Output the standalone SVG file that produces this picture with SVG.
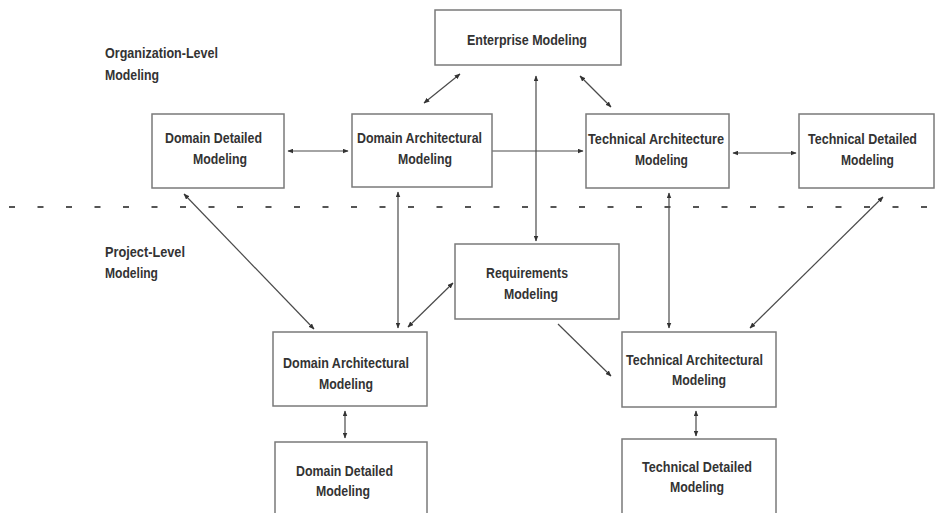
<svg xmlns="http://www.w3.org/2000/svg" width="936" height="513" viewBox="0 0 936 513">
  <style>
    .box { fill: #ffffff; stroke: #7a7a7a; stroke-width: 1.5; }
    .lbl { font-family: "Liberation Sans", Arial, sans-serif; font-weight: bold; font-size: 15px; fill: #333333; }
    .edge { stroke: #4a4a4a; stroke-width: 1.2; fill: none; marker-end: url(#arrow); }
    .both { marker-start: url(#arrowStart); }
    .divider { stroke: #555555; stroke-width: 2; stroke-dasharray: 6 22.5; fill: none; }
  </style>
  <defs>
    <marker id="arrow" viewBox="0 0 10 8" refX="9" refY="4" markerWidth="6" markerHeight="5" markerUnits="userSpaceOnUse" orient="auto">
      <path d="M0,0 L10,4 L0,8 Z" fill="#333333"/>
    </marker>
    <marker id="arrowStart" viewBox="0 0 10 8" refX="1" refY="4" markerWidth="6" markerHeight="5" markerUnits="userSpaceOnUse" orient="auto">
      <path d="M10,0 L0,4 L10,8 Z" fill="#333333"/>
    </marker>
  </defs>
  <rect width="936" height="513" fill="#ffffff"/>

  <!-- level divider and captions (condensed via textLength) -->
  <line class="divider" x1="9" y1="207" x2="936" y2="207"/>
  <text class="lbl" x="105" y="58" textLength="113" lengthAdjust="spacingAndGlyphs">Organization-Level</text>
  <text class="lbl" x="105" y="80" textLength="54" lengthAdjust="spacingAndGlyphs">Modeling</text>
  <text class="lbl" x="105" y="257" textLength="80" lengthAdjust="spacingAndGlyphs">Project-Level</text>
  <text class="lbl" x="105" y="278" textLength="53" lengthAdjust="spacingAndGlyphs">Modeling</text>

  <!-- connectors -->
  <g id="connectors">
    <line class="edge both" x1="460" y1="74" x2="424" y2="103"/>
    <line class="edge both" x1="536" y1="76" x2="536" y2="241"/>
    <line class="edge both" x1="580" y1="76" x2="611" y2="107"/>
    <line class="edge both" x1="288" y1="151" x2="348" y2="151"/>
    <line class="edge" x1="492" y1="151" x2="583" y2="151"/>
    <line class="edge both" x1="733" y1="153" x2="796" y2="153"/>
    <line class="edge both" x1="184" y1="194" x2="314" y2="329"/>
    <line class="edge both" x1="398" y1="192" x2="398" y2="328"/>
    <line class="edge both" x1="453" y1="283" x2="408" y2="327"/>
    <line class="edge" x1="558" y1="324" x2="611" y2="376"/>
    <line class="edge both" x1="669" y1="193" x2="669" y2="328"/>
    <line class="edge both" x1="883" y1="197" x2="750" y2="328"/>
    <line class="edge both" x1="345" y1="411" x2="345" y2="438"/>
    <line class="edge both" x1="696" y1="411" x2="696" y2="436"/>
  </g>

  <!-- organization-level nodes -->
  <g id="enterprise">
    <rect class="box" x="435" y="10" width="186" height="55"/>
    <text class="lbl" x="467" y="45" textLength="120" lengthAdjust="spacingAndGlyphs">Enterprise Modeling</text>
  </g>
  <g id="org-domain-detailed">
    <rect class="box" x="152" y="114" width="132" height="74"/>
    <text class="lbl" x="165" y="143" textLength="97" lengthAdjust="spacingAndGlyphs">Domain Detailed</text>
    <text class="lbl" x="193" y="164" textLength="54" lengthAdjust="spacingAndGlyphs">Modeling</text>
  </g>
  <g id="org-domain-arch">
    <rect class="box" x="352" y="114" width="140" height="73"/>
    <text class="lbl" x="357" y="143" textLength="125" lengthAdjust="spacingAndGlyphs">Domain Architectural</text>
    <text class="lbl" x="398" y="164" textLength="54" lengthAdjust="spacingAndGlyphs">Modeling</text>
  </g>
  <g id="org-tech-arch">
    <rect class="box" x="586" y="114" width="143" height="74"/>
    <text class="lbl" x="588" y="144" textLength="136" lengthAdjust="spacingAndGlyphs">Technical Architecture</text>
    <text class="lbl" x="635" y="165" textLength="53" lengthAdjust="spacingAndGlyphs">Modeling</text>
  </g>
  <g id="org-tech-detailed">
    <rect class="box" x="799" y="114" width="135" height="74"/>
    <text class="lbl" x="808" y="144" textLength="109" lengthAdjust="spacingAndGlyphs">Technical Detailed</text>
    <text class="lbl" x="841" y="165" textLength="53" lengthAdjust="spacingAndGlyphs">Modeling</text>
  </g>

  <!-- project-level nodes -->
  <g id="requirements">
    <rect class="box" x="455" y="244" width="164" height="75"/>
    <text class="lbl" x="486" y="278" textLength="82" lengthAdjust="spacingAndGlyphs">Requirements</text>
    <text class="lbl" x="504" y="299" textLength="54" lengthAdjust="spacingAndGlyphs">Modeling</text>
  </g>
  <g id="proj-domain-arch">
    <rect class="box" x="273" y="332" width="154" height="74"/>
    <text class="lbl" x="283" y="368" textLength="126" lengthAdjust="spacingAndGlyphs">Domain Architectural</text>
    <text class="lbl" x="319" y="389" textLength="54" lengthAdjust="spacingAndGlyphs">Modeling</text>
  </g>
  <g id="proj-tech-arch">
    <rect class="box" x="622" y="332" width="154" height="75"/>
    <text class="lbl" x="626" y="365" textLength="137" lengthAdjust="spacingAndGlyphs">Technical Architectural</text>
    <text class="lbl" x="672" y="385" textLength="54" lengthAdjust="spacingAndGlyphs">Modeling</text>
  </g>
  <g id="proj-domain-detailed">
    <rect class="box" x="275" y="442" width="152" height="80"/>
    <text class="lbl" x="296" y="476" textLength="97" lengthAdjust="spacingAndGlyphs">Domain Detailed</text>
    <text class="lbl" x="316" y="496" textLength="54" lengthAdjust="spacingAndGlyphs">Modeling</text>
  </g>
  <g id="proj-tech-detailed">
    <rect class="box" x="622" y="439" width="154" height="83"/>
    <text class="lbl" x="642" y="472" textLength="110" lengthAdjust="spacingAndGlyphs">Technical Detailed</text>
    <text class="lbl" x="670" y="492" textLength="54" lengthAdjust="spacingAndGlyphs">Modeling</text>
  </g>
</svg>
